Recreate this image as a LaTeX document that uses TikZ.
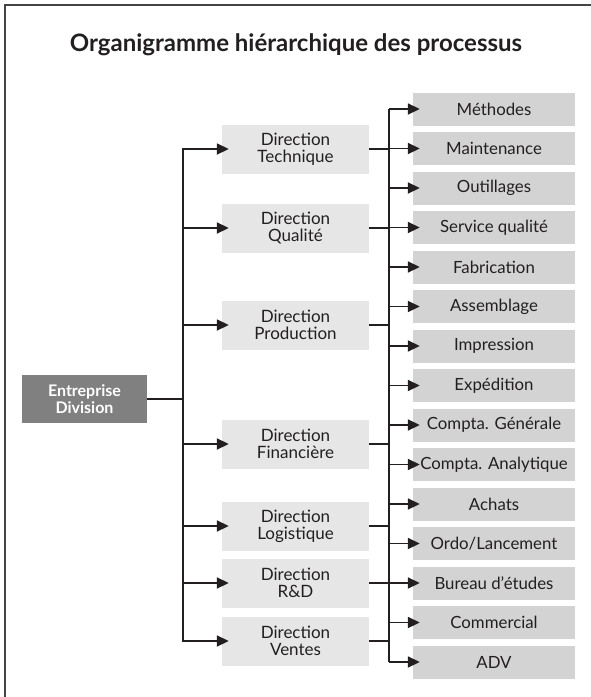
\documentclass[tikz,border=0pt]{standalone}
\usepackage{fontspec}
\setmainfont{Lato}
\usetikzlibrary{arrows.meta}
\definecolor{rootfill}{HTML}{808081}
\definecolor{midfill}{HTML}{E6E6E7}
\definecolor{leaffill}{HTML}{D3D3D4}
\definecolor{ink}{HTML}{231F20}
\definecolor{framecol}{HTML}{444444}
\begin{document}
\begin{tikzpicture}[x=1pt,y=-1pt,
  frame/.style={draw=framecol,line width=2pt},
  title/.style={font=\fontsize{24}{27}\selectfont\bfseries,text=ink},
  rootbox/.style={fill=rootfill,text=white,minimum width=125pt,minimum height=48pt,
    inner sep=0pt,align=center,font=\fontsize{16}{17.5}\selectfont\bfseries},
  midbox/.style={fill=midfill,text=ink,minimum width=147pt,minimum height=49pt,
    inner sep=0pt,align=center,font=\fontsize{17}{17}\selectfont},
  leafbox/.style={fill=leaffill,text=ink,minimum width=162pt,minimum height=33pt,
    inner sep=0pt,align=center,font=\fontsize{16.8}{17}\selectfont},
  link/.style={draw=ink,line width=1.8pt},
  arrow/.style={link,-{Triangle[length=12pt,width=11pt]},shorten >=-7pt}]
\useasboundingbox (0,0) rectangle (591,697);
% outer frame, running off the right and bottom edges
\draw[frame] (5,4.5) rectangle (600,705);
\node[title] (ttl) at (296,45) {Organigramme hiérarchique des processus};

% root
\node[rootbox] (root) at (84.5,399) {Entreprise\\Division};

% directions
\node[midbox] (tech) at (295.5,149) {Direction\\Technique};
\node[midbox] (qual) at (295.5,228) {Direction\\Qualité};
\node[midbox] (prod) at (295.5,325) {Direction\\Production};
\node[midbox] (fin)  at (295.5,444) {Direction\\Financière};
\node[midbox] (log)  at (295.5,526) {Direction\\Logistique};
\node[midbox] (rd)   at (295.5,583) {Direction\\R\&D};
\node[midbox] (vent) at (295.5,641) {Direction\\Ventes};

% services
\foreach \i/\txt in {0/Méthodes,1/Maintenance,2/Outillages,3/Service qualité,
  4/Fabrication,5/Assemblage,6/Impression,7/Expédition,8/Compta. Générale,
  9/Compta. Analytique,10/Achats,11/{Ordo/Lancement},12/Bureau d’études,
  13/Commercial,14/ADV}
  \node[leafbox] (s\i) at (494,109+39.5*\i) {\txt};

% junctions of the two trunks
\coordinate (jL) at (183,399);
\coordinate (jR) at (389,0);

% root to directions
\draw[link] (root.east) -- (jL);
\foreach \n in {tech,qual,prod,fin,log,rd,vent}
  \draw[arrow] (jL) |- (\n.west);

% directions to services
\foreach \n in {tech,qual,prod,fin,log,rd,vent}
  \draw[link] (\n.east) -- (\n.east -| jR);
\draw[link] (s0.west -| jR) -- (s14.west -| jR);
\foreach \i in {0,...,14}
  \draw[arrow] (s\i.west -| jR) -- (s\i.west);
\end{tikzpicture}
\end{document}
